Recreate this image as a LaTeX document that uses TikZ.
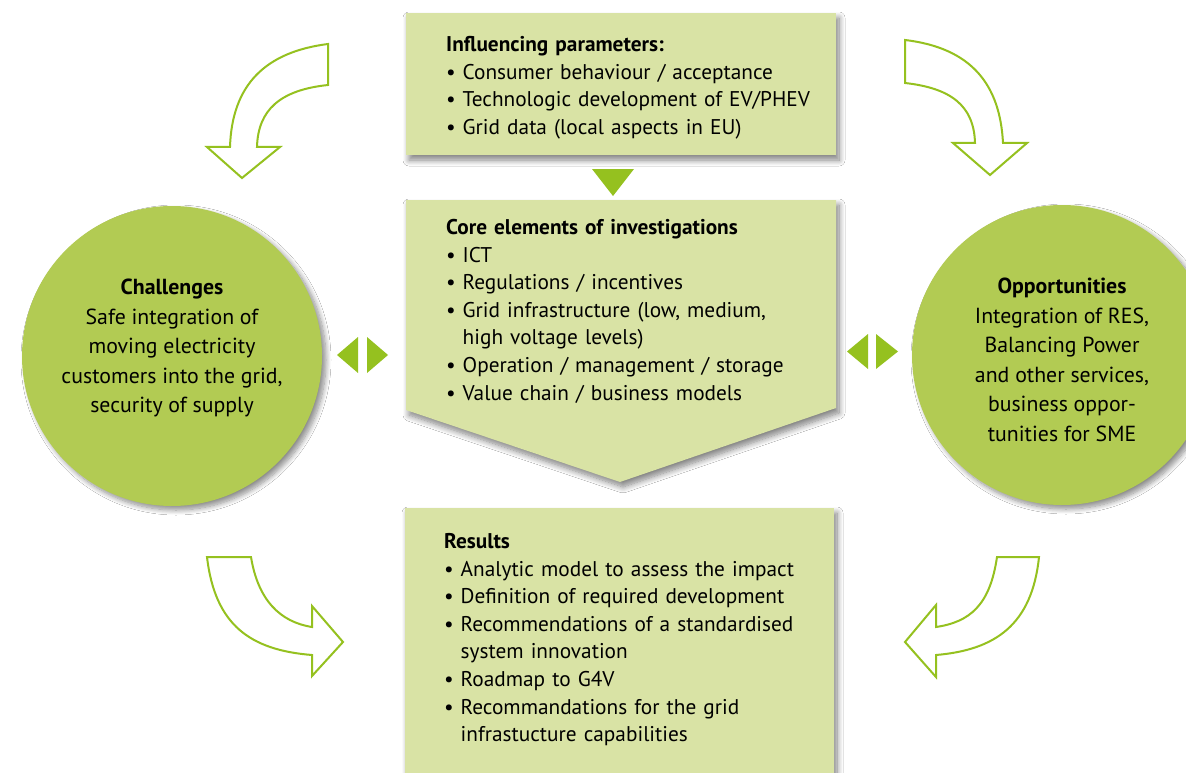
\documentclass[tikz,border=0pt]{standalone}
\usepackage{fontspec}
\setmainfont{PT Sans}
\usetikzlibrary{shadows.blur}
\definecolor{boxg}{HTML}{D9E3A5}
\definecolor{circg}{HTML}{B2CB53}
\definecolor{arrg}{HTML}{95C11F}
\newcommand{\bitem}[1]{\makebox[16.5pt][l]{\textbullet}#1}
\newcommand{\bcont}[1]{\hspace*{16.5pt}#1}
\begin{document}
\begin{tikzpicture}[x=1pt,y=-1pt,
  txt/.style={anchor=base west, inner sep=0pt, text width=400pt, align=left,
    font=\fontsize{21.3}{27.6}\selectfont},
  ctxt/.style={align=center, inner sep=0pt, font=\fontsize{21.8}{29.5}\selectfont},
  boxsh/.style={fill=boxg, blur shadow={shadow xshift=3pt, shadow yshift=-5pt, shadow blur steps=10, shadow opacity=50, shadow blur radius=6pt}},
  circsh/.style={fill=circg, blur shadow={shadow xshift=4pt, shadow yshift=-4pt, shadow blur steps=10, shadow opacity=45, shadow blur radius=5pt}},
  curvearr/.style={draw=arrg, line width=2pt, fill=white, line join=miter},
  tri/.style={fill=arrg, draw=none}
]
\useasboundingbox (0,0) rectangle (1186,773);
\clip (0,0) rectangle (1186,773);
\fill[white] (0,0) rectangle (1186,773);

% circles
\path[circsh] (172,356) circle (150);
\path[circsh] (1062,355) circle (150);
\node[ctxt] (chal) at (172,348) {\textbf{Challenges}\\Safe integration of\\moving electricity\\customers into the grid,\\security of supply};
\node[ctxt] (opp) at (1062,360) {\textbf{Opportunities}\\Integration of RES,\\Balancing Power\\and other services,\\business oppor-\\tunities for SME};

% boxes
\path[boxsh] (406,13) rectangle (836,155);
\path[boxsh] (406,200) -- (836,200) -- (836,408) -- (620,482) -- (406,410) -- cycle;
\path[boxsh] (405,508) rectangle (834,800);

\node[txt] (infl) at (446,51.5) {\textbf{Influencing parameters:}\\
\bitem{Consumer behaviour / acceptance}\\
\bitem{Technologic development of EV/PHEV}\\
\bitem{Grid data (local aspects in EU)}};

\node[txt] (core) at (446,234.5) {\textbf{Core elements of investigations}\\
\bitem{ICT}\\
\bitem{Regulations / incentives}\\
\bitem{Grid infrastructure (low, medium,}\\
\bcont{high voltage levels)}\\
\bitem{Operation / management / storage}\\
\bitem{Value chain / business models}};

\node[txt] (res) at (444,548.5) {\textbf{Results}\\
\bitem{Analytic model to assess the impact}\\
\bitem{Definition of required development}\\
\bitem{Recommendations of a standardised}\\
\bcont{system innovation}\\
\bitem{Roadmap to G4V}\\
\bitem{Recommandations for the grid}\\
\bcont{infrastucture capabilities}};

% small triangles
\path[tri] (592,169) -- (634,169) -- (613,196) -- cycle;
\path[tri] (358,337) -- (358,373) -- (337,355) -- cycle;
\path[tri] (367,337) -- (367,373) -- (388,355) -- cycle;
\path[tri] (868,334) -- (868,369) -- (847,351.5) -- cycle;
\path[tri] (876,334) -- (876,369) -- (898,351.5) -- cycle;

% curved arrows
\draw[curvearr] (328,44) .. controls (265,52) and (232,85) .. (230,147)
  -- (207,147) -- (242,178) -- (280,147) -- (257,147)
  .. controls (258,110) and (280,90) .. (328,85) -- cycle;
\draw[curvearr] (905,40) .. controls (972,48) and (1000,85) .. (1003,143)
  -- (1027,143) -- (990,175) -- (953,143) -- (975,143)
  .. controls (974,105) and (950,88) .. (905,83) -- cycle;
\draw[curvearr] (207,557) -- (251,557) .. controls (258,600) and (280,622) .. (312,627)
  -- (312,606) -- (343,642) -- (312,676) -- (312,655)
  .. controls (250,650) and (215,625) .. (207,557) -- cycle;
\draw[curvearr] (997,557) -- (1039,557) .. controls (1032,625) and (995,650) .. (936,655)
  -- (936,677) -- (905,642) -- (936,605) -- (936,627)
  .. controls (970,622) and (990,605) .. (997,557) -- cycle;
\end{tikzpicture}
\end{document}
